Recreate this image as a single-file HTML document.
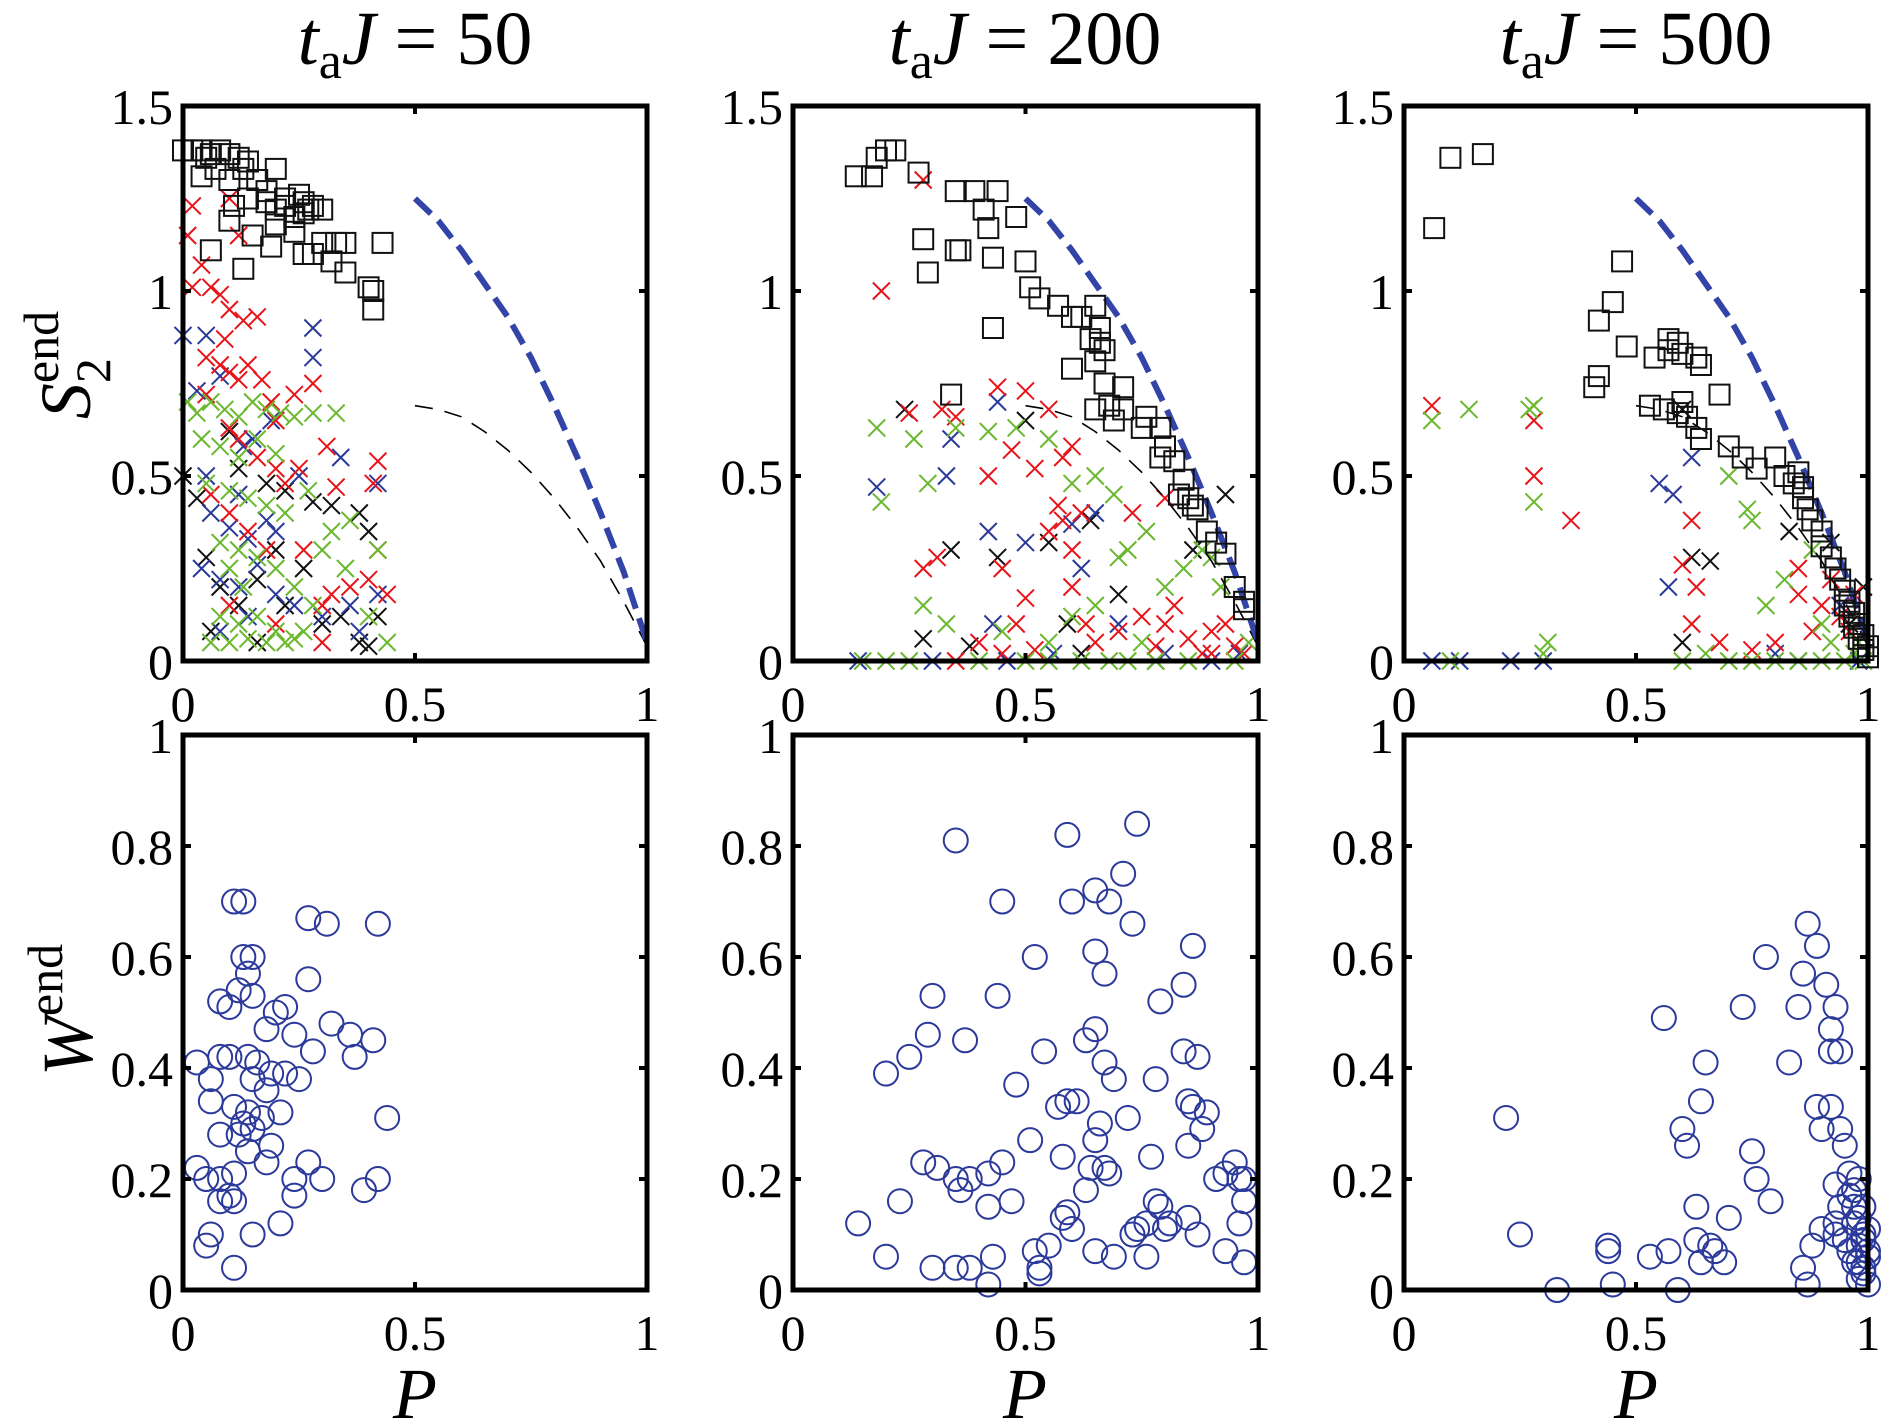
<!DOCTYPE html>
<html><head><meta charset="utf-8">
<style>
html,body{margin:0;padding:0;background:#fff;}
svg{display:block;font-family:"Liberation Serif",serif;}
</style></head>
<body>
<svg id="fig" width="1890" height="1428" viewBox="0 0 1890 1428">
<g>
<text x="415" y="64" font-size="76" text-anchor="middle"><tspan font-style="italic">t</tspan><tspan font-size="52" dy="14">a</tspan><tspan font-style="italic" dy="-14">J</tspan> = 50</text>
<text x="1025" y="64" font-size="76" text-anchor="middle"><tspan font-style="italic">t</tspan><tspan font-size="52" dy="14">a</tspan><tspan font-style="italic" dy="-14">J</tspan> = 200</text>
<text x="1636" y="64" font-size="76" text-anchor="middle"><tspan font-style="italic">t</tspan><tspan font-size="52" dy="14">a</tspan><tspan font-style="italic" dy="-14">J</tspan> = 500</text>
</g>
<text transform="translate(90,365) rotate(-90)" font-size="72" text-anchor="middle"><tspan font-style="italic">S</tspan><tspan font-size="50" dy="20">2</tspan><tspan font-size="50" dx="-25" dy="-52">end</tspan></text>
<text transform="translate(92,1010) rotate(-90)" font-size="72" text-anchor="middle"><tspan font-style="italic">W</tspan><tspan font-size="50" dy="-30">end</tspan></text>
<text x="415" y="1418" font-size="72" font-style="italic" text-anchor="middle">P</text>
<text x="1025" y="1418" font-size="72" font-style="italic" text-anchor="middle">P</text>
<text x="1636" y="1418" font-size="72" font-style="italic" text-anchor="middle">P</text>
</svg>
<script>
// ---- data ----
const blueCurveP = [0.5,0.55,0.6,0.65,0.7,0.75,0.8,0.85,0.9,0.95,1.0];
const blueCurveS = [1.25,1.19,1.11,1.02,0.93,0.82,0.69,0.55,0.40,0.24,0.05];
const blackCurveS = [0.69,0.68,0.66,0.62,0.57,0.51,0.44,0.36,0.27,0.16,0.04];
const xTicks = [0,0.5,1];
const xTickLabels = ["0","0.5","1"];
const s2Ticks = [0,0.5,1,1.5];
const s2TickLabels = ["0","0.5","1","1.5"];
const wTicks = [0,0.2,0.4,0.6,0.8,1];
const wTickLabels = ["0","0.2","0.4","0.6","0.8","1"];

const sq50 = [[0.0,1.38],[0.02,1.38],[0.04,1.38],[0.06,1.37],[0.08,1.38],[0.1,1.37],[0.12,1.36],[0.14,1.35],[0.05,1.36],[0.07,1.33],[0.1,1.30],[0.13,1.33],[0.16,1.30],[0.18,1.27],[0.2,1.33],[0.14,1.25],[0.18,1.24],[0.22,1.25],[0.25,1.26],[0.27,1.22],[0.24,1.20],[0.22,1.23],[0.2,1.22],[0.26,1.24],[0.28,1.23],[0.3,1.22],[0.04,1.31],[0.1,1.19],[0.15,1.15],[0.19,1.12],[0.11,1.23],[0.2,1.18],[0.24,1.16],[0.3,1.13],[0.33,1.13],[0.35,1.13],[0.43,1.13],[0.26,1.10],[0.28,1.10],[0.32,1.08],[0.35,1.05],[0.4,1.01],[0.41,1.00],[0.41,0.95],[0.06,1.11],[0.13,1.06],[0.26,1.21]];
const red50 = [[0.02,1.23],[0.01,1.15],[0.04,1.07],[0.02,1.01],[0.06,1.01],[0.1,1.25],[0.12,1.15],[0.08,0.99],[0.1,0.95],[0.13,0.92],[0.16,0.93],[0.09,0.87],[0.05,0.82],[0.08,0.80],[0.1,0.78],[0.12,0.76],[0.14,0.80],[0.17,0.76],[0.19,0.70],[0.12,0.60],[0.16,0.55],[0.2,0.52],[0.22,0.48],[0.25,0.52],[0.31,0.58],[0.33,0.47],[0.42,0.54],[0.41,0.48],[0.1,0.40],[0.14,0.35],[0.18,0.30],[0.26,0.30],[0.42,0.30],[0.4,0.22],[0.36,0.20],[0.32,0.18],[0.3,0.15],[0.06,0.45],[0.2,0.65],[0.24,0.72],[0.28,0.75],[0.1,0.63],[0.05,0.72],[0.1,0.15],[0.2,0.10],[0.3,0.05],[0.44,0.18]];
const green50 = [[0.01,0.70],[0.03,0.67],[0.06,0.70],[0.09,0.68],[0.12,0.66],[0.15,0.70],[0.18,0.68],[0.21,0.67],[0.24,0.66],[0.28,0.67],[0.33,0.67],[0.04,0.60],[0.08,0.58],[0.12,0.55],[0.16,0.60],[0.2,0.56],[0.05,0.48],[0.1,0.46],[0.14,0.44],[0.18,0.42],[0.22,0.40],[0.27,0.46],[0.36,0.38],[0.32,0.35],[0.3,0.30],[0.42,0.30],[0.08,0.32],[0.12,0.30],[0.16,0.28],[0.2,0.25],[0.24,0.20],[0.28,0.15],[0.08,0.12],[0.12,0.10],[0.16,0.12],[0.2,0.08],[0.24,0.06],[0.06,0.05],[0.1,0.05],[0.14,0.06],[0.18,0.05],[0.22,0.05],[0.26,0.08],[0.44,0.05],[0.4,0.12],[0.35,0.25],[0.13,0.20],[0.1,0.25]];
const blue50 = [[0.0,0.88],[0.05,0.88],[0.03,0.73],[0.08,0.77],[0.19,0.65],[0.28,0.9],[0.28,0.82],[0.13,0.58],[0.15,0.60],[0.05,0.5],[0.12,0.45],[0.18,0.38],[0.25,0.50],[0.34,0.55],[0.42,0.48],[0.06,0.40],[0.1,0.36],[0.14,0.33],[0.04,0.25],[0.08,0.22],[0.12,0.20],[0.16,0.26],[0.2,0.18],[0.3,0.12],[0.36,0.15],[0.42,0.18],[0.38,0.08],[0.08,0.08],[0.14,0.12],[0.24,0.15],[0.2,0.35]];
const black50 = [[0.0,0.50],[0.03,0.44],[0.1,0.62],[0.12,0.52],[0.18,0.48],[0.22,0.46],[0.28,0.43],[0.32,0.42],[0.38,0.40],[0.4,0.35],[0.05,0.28],[0.08,0.2],[0.12,0.15],[0.16,0.22],[0.2,0.30],[0.26,0.25],[0.3,0.10],[0.34,0.12],[0.38,0.05],[0.42,0.12],[0.06,0.08],[0.16,0.05],[0.22,0.15],[0.4,0.04]];
const w50 = [[0.11,0.70],[0.13,0.70],[0.27,0.67],[0.31,0.66],[0.42,0.66],[0.13,0.60],[0.15,0.60],[0.14,0.57],[0.15,0.53],[0.08,0.52],[0.10,0.51],[0.12,0.54],[0.27,0.56],[0.20,0.50],[0.22,0.51],[0.18,0.47],[0.24,0.46],[0.32,0.48],[0.36,0.46],[0.41,0.45],[0.28,0.43],[0.37,0.42],[0.03,0.41],[0.08,0.42],[0.10,0.42],[0.14,0.42],[0.16,0.41],[0.19,0.39],[0.06,0.38],[0.15,0.38],[0.22,0.39],[0.25,0.38],[0.18,0.36],[0.06,0.34],[0.11,0.33],[0.14,0.32],[0.13,0.30],[0.15,0.29],[0.12,0.28],[0.17,0.31],[0.21,0.32],[0.08,0.28],[0.19,0.26],[0.14,0.25],[0.18,0.23],[0.27,0.23],[0.44,0.31],[0.03,0.22],[0.11,0.21],[0.08,0.20],[0.05,0.20],[0.24,0.20],[0.30,0.20],[0.42,0.20],[0.39,0.18],[0.10,0.17],[0.11,0.16],[0.08,0.16],[0.24,0.17],[0.21,0.12],[0.15,0.10],[0.06,0.10],[0.05,0.08],[0.11,0.04]];

const sq200 = [[0.135,1.31],[0.17,1.31],[0.18,1.36],[0.2,1.38],[0.22,1.38],[0.27,1.32],[0.35,1.27],[0.39,1.27],[0.44,1.27],[0.41,1.22],[0.48,1.20],[0.28,1.14],[0.36,1.11],[0.35,1.11],[0.29,1.05],[0.42,1.17],[0.43,1.09],[0.43,0.90],[0.50,1.08],[0.51,1.01],[0.53,0.98],[0.57,0.96],[0.60,0.93],[0.62,0.93],[0.64,0.87],[0.66,0.86],[0.65,0.81],[0.67,0.75],[0.65,0.68],[0.68,0.69],[0.69,0.65],[0.71,0.68],[0.75,0.63],[0.79,0.63],[0.80,0.58],[0.82,0.54],[0.84,0.49],[0.85,0.44],[0.87,0.41],[0.89,0.35],[0.91,0.32],[0.93,0.29],[0.95,0.20],[0.97,0.16],[0.97,0.14],[0.34,0.72],[0.65,0.96],[0.66,0.90],[0.67,0.84],[0.60,0.79],[0.71,0.74],[0.76,0.66],[0.79,0.55],[0.83,0.45],[0.86,0.42]];
const red200 = [[0.19,1.0],[0.28,1.3],[0.25,0.67],[0.32,0.68],[0.35,0.66],[0.44,0.74],[0.5,0.73],[0.6,0.58],[0.55,0.68],[0.42,0.5],[0.47,0.57],[0.52,0.52],[0.58,0.55],[0.62,0.4],[0.57,0.42],[0.73,0.4],[0.8,0.44],[0.28,0.25],[0.31,0.28],[0.45,0.25],[0.5,0.17],[0.48,0.1],[0.55,0.35],[0.58,0.38],[0.6,0.2],[0.63,0.1],[0.65,0.05],[0.7,0.08],[0.75,0.12],[0.8,0.1],[0.85,0.06],[0.9,0.08],[0.93,0.1],[0.95,0.04],[0.97,0.02],[0.4,0.05],[0.45,0.02],[0.52,0.03],[0.35,0.0],[0.88,0.02],[0.78,0.04],[0.6,0.3],[0.82,0.15],[0.9,0.02]];
const green200 = [[0.18,0.63],[0.26,0.6],[0.35,0.63],[0.42,0.62],[0.48,0.63],[0.19,0.43],[0.29,0.48],[0.28,0.15],[0.33,0.1],[0.55,0.6],[0.6,0.48],[0.65,0.5],[0.69,0.45],[0.7,0.28],[0.72,0.3],[0.76,0.35],[0.8,0.2],[0.84,0.25],[0.88,0.3],[0.9,0.28],[0.92,0.2],[0.15,0.0],[0.2,0.0],[0.25,0.0],[0.4,0.0],[0.5,0.0],[0.55,0.0],[0.62,0.0],[0.68,0.0],[0.72,0.0],[0.78,0.0],[0.85,0.0],[0.95,0.0],[0.45,0.08],[0.55,0.05],[0.6,0.12],[0.75,0.05],[0.98,0.05],[0.65,0.15]];
const blue200 = [[0.14,0.0],[0.18,0.47],[0.3,0.0],[0.34,0.6],[0.33,0.5],[0.44,0.7],[0.42,0.35],[0.43,0.1],[0.5,0.32],[0.6,0.37],[0.62,0.25],[0.65,0.4],[0.7,0.1],[0.8,0.02],[0.9,0.0],[0.56,0.02],[0.46,0.0],[0.96,0.02]];
const black200 = [[0.24,0.68],[0.28,0.06],[0.34,0.3],[0.38,0.04],[0.44,0.28],[0.5,0.65],[0.55,0.32],[0.59,0.1],[0.64,0.38],[0.7,0.18],[0.86,0.3],[0.93,0.45],[0.62,0.02],[0.78,0.0]];
const w200 = [[0.35,0.81],[0.59,0.82],[0.74,0.84],[0.45,0.70],[0.6,0.70],[0.65,0.72],[0.68,0.70],[0.71,0.75],[0.73,0.66],[0.52,0.60],[0.65,0.61],[0.86,0.62],[0.3,0.53],[0.44,0.53],[0.67,0.57],[0.79,0.52],[0.84,0.55],[0.65,0.47],[0.37,0.45],[0.25,0.42],[0.2,0.39],[0.54,0.43],[0.63,0.45],[0.84,0.43],[0.87,0.42],[0.67,0.41],[0.69,0.38],[0.78,0.38],[0.29,0.46],[0.48,0.37],[0.59,0.34],[0.61,0.34],[0.57,0.33],[0.72,0.31],[0.85,0.34],[0.86,0.33],[0.89,0.32],[0.88,0.29],[0.85,0.26],[0.51,0.27],[0.66,0.30],[0.65,0.27],[0.28,0.23],[0.31,0.22],[0.35,0.20],[0.36,0.18],[0.38,0.20],[0.42,0.21],[0.45,0.23],[0.58,0.24],[0.64,0.22],[0.67,0.22],[0.68,0.21],[0.77,0.24],[0.91,0.20],[0.93,0.21],[0.95,0.23],[0.96,0.20],[0.97,0.20],[0.97,0.16],[0.96,0.12],[0.93,0.07],[0.97,0.05],[0.23,0.16],[0.14,0.12],[0.2,0.06],[0.3,0.04],[0.35,0.04],[0.38,0.04],[0.42,0.15],[0.43,0.06],[0.42,0.01],[0.47,0.16],[0.52,0.07],[0.53,0.04],[0.53,0.03],[0.55,0.08],[0.58,0.13],[0.6,0.11],[0.65,0.07],[0.69,0.06],[0.73,0.10],[0.76,0.06],[0.78,0.16],[0.79,0.15],[0.8,0.11],[0.81,0.12],[0.85,0.13],[0.87,0.10],[0.74,0.11],[0.76,0.12],[0.63,0.18],[0.59,0.14]];

const sq500 = [[0.065,1.17],[0.1,1.36],[0.17,1.37],[0.42,0.92],[0.42,0.77],[0.41,0.74],[0.47,1.08],[0.45,0.97],[0.48,0.85],[0.54,0.82],[0.57,0.87],[0.59,0.86],[0.6,0.83],[0.63,0.82],[0.64,0.80],[0.57,0.84],[0.68,0.72],[0.53,0.69],[0.56,0.68],[0.59,0.67],[0.6,0.70],[0.61,0.66],[0.63,0.63],[0.64,0.60],[0.7,0.58],[0.73,0.55],[0.76,0.52],[0.8,0.55],[0.82,0.50],[0.84,0.48],[0.86,0.44],[0.87,0.41],[0.88,0.38],[0.9,0.35],[0.9,0.31],[0.92,0.28],[0.93,0.25],[0.94,0.22],[0.95,0.19],[0.96,0.16],[0.97,0.13],[0.98,0.10],[0.99,0.07],[1.0,0.04],[1.0,0.01],[0.99,0.03],[0.97,0.09],[0.96,0.12],[0.95,0.15],[0.98,0.06],[0.86,0.47],[0.85,0.51]];
const red500 = [[0.06,0.69],[0.28,0.65],[0.28,0.5],[0.36,0.38],[0.62,0.38],[0.6,0.26],[0.63,0.2],[0.62,0.1],[0.68,0.05],[0.85,0.18],[0.9,0.15],[0.92,0.22],[0.94,0.12],[0.96,0.08],[0.88,0.08],[0.8,0.05],[0.75,0.03],[0.97,0.18],[0.85,0.25]];
const green500 = [[0.06,0.65],[0.14,0.68],[0.27,0.68],[0.28,0.69],[0.7,0.5],[0.74,0.41],[0.75,0.38],[0.28,0.43],[0.3,0.02],[0.31,0.05],[0.1,0.0],[0.6,0.0],[0.7,0.0],[0.75,0.0],[0.85,0.0],[0.9,0.0],[0.95,0.0],[0.97,0.02],[0.98,0.05],[0.9,0.1],[0.82,0.22],[0.78,0.15],[0.88,0.3],[0.92,0.05],[0.65,0.02],[0.8,0.0],[0.99,0.0]];
const blue500 = [[0.06,0.0],[0.12,0.0],[0.23,0.0],[0.3,0.0],[0.55,0.48],[0.58,0.45],[0.57,0.2],[0.62,0.55],[0.85,0.0],[0.98,0.0],[0.8,0.02],[0.94,0.15]];
const black500 = [[0.6,0.68],[0.6,0.05],[0.66,0.27],[0.62,0.28],[0.92,0.32],[0.96,0.1],[0.83,0.35],[0.99,0.2]];
const w500 = [[0.22,0.31],[0.25,0.10],[0.33,0.00],[0.44,0.08],[0.44,0.07],[0.45,0.01],[0.56,0.49],[0.53,0.06],[0.57,0.07],[0.59,0.00],[0.6,0.29],[0.61,0.26],[0.65,0.41],[0.64,0.34],[0.63,0.15],[0.63,0.09],[0.64,0.05],[0.66,0.08],[0.67,0.07],[0.69,0.05],[0.7,0.13],[0.73,0.51],[0.75,0.25],[0.76,0.20],[0.78,0.60],[0.79,0.16],[0.83,0.41],[0.85,0.51],[0.86,0.57],[0.87,0.66],[0.89,0.62],[0.91,0.55],[0.93,0.51],[0.92,0.47],[0.92,0.43],[0.94,0.43],[0.89,0.33],[0.92,0.33],[0.9,0.29],[0.94,0.29],[0.95,0.26],[0.96,0.21],[0.93,0.19],[0.96,0.17],[0.97,0.15],[0.94,0.15],[0.97,0.12],[0.99,0.10],[0.98,0.08],[1.0,0.06],[0.99,0.04],[0.98,0.02],[1.0,0.01],[0.97,0.05],[0.95,0.09],[0.93,0.10],[0.88,0.08],[0.86,0.04],[0.87,0.01],[0.99,0.15],[0.98,0.13],[1.0,0.11],[0.97,0.18],[0.98,0.20],[0.99,0.09],[0.99,0.03],[1.0,0.07],[0.98,0.05],[0.96,0.07],[0.93,0.12],[0.9,0.11]];

// ---- drawing ----
const NS = "http://www.w3.org/2000/svg";
const svg = document.getElementById("fig");
function mk(tag, attrs, parent){ const e=document.createElementNS(NS,tag); for(const k in attrs) e.setAttribute(k,attrs[k]); (parent||svg).appendChild(e); return e; }
const colX = [[183,647],[793,1258],[1404,1868]];
const row1Y = [106,661], row2Y = [735,1290];
const RED="#e8141a", GREEN="#6ab82e", BLUE="#2b3a9a", BLACK="#111";

function makeAxes(ci, ry, ymax, yTicks, yLabels, name){
  const [x0,x1]=colX[ci], [y0,y1]=ry;
  const sx = v => x0 + v*(x1-x0);
  const sy = v => y1 - v/ymax*(y1-y0);
  const g = mk("g",{});
  
  
  return {g,sx,sy,x0,x1,y0,y1,yTicks,yLabels};
}
function frame(a){
  const f = mk("rect",{x:a.x0,y:a.y0,width:a.x1-a.x0,height:a.y1-a.y0,fill:"none",stroke:"#000","stroke-width":5},a.g);
  
  
  xTicks.forEach((t,i)=>{
    const X=a.sx(t);
    mk("line",{x1:X,x2:X,y1:a.y1,y2:a.y1-8,stroke:"#000","stroke-width":4},a.g);
    mk("line",{x1:X,x2:X,y1:a.y0,y2:a.y0+8,stroke:"#000","stroke-width":4},a.g);
    const tl = mk("text",{x:X,y:a.y1+60,"font-size":50,"text-anchor":"middle"},a.g);
    tl.textContent = xTickLabels[i];
    
    
  });
  a.yTicks.forEach((t,i)=>{
    const Y=a.sy(t);
    mk("line",{x1:a.x0,x2:a.x0+8,y1:Y,y2:Y,stroke:"#000","stroke-width":4},a.g);
    mk("line",{x1:a.x1,x2:a.x1-8,y1:Y,y2:Y,stroke:"#000","stroke-width":4},a.g);
    const tl = mk("text",{x:a.x0-10,y:Y+18,"font-size":50,"text-anchor":"end"},a.g);
    tl.textContent = a.yLabels[i];
    
    
  });
}
function crosses(a, pts, color, name){
  const g = mk("g",{stroke:color,"stroke-width":2,fill:"none"},a.g);
  
  
  const h=8.5;
  pts.forEach(p=>{
    const X=a.sx(p[0]), Y=a.sy(p[1]);
    const e = mk("path",{d:`M${X-h},${Y-h}L${X+h},${Y+h}M${X-h},${Y+h}L${X+h},${Y-h}`},g);
    
    
  });
}
function squares(a, pts, name){
  const g = mk("g",{stroke:BLACK,"stroke-width":2,fill:"none"},a.g);
  
  
  const h=10;
  pts.forEach(p=>{
    const e = mk("rect",{x:a.sx(p[0])-h,y:a.sy(p[1])-h,width:2*h,height:2*h},g);
    
    
  });
}
function circles(a, pts, name){
  const g = mk("g",{stroke:BLUE,"stroke-width":2,fill:"none"},a.g);
  
  
  pts.forEach(p=>{
    const e = mk("circle",{cx:a.sx(p[0]),cy:a.sy(p[1]),r:12},g);
    
    
  });
}
function curves(a){
  const dB = blueCurveP.map((p,i)=>(i?"L":"M")+a.sx(p)+","+a.sy(blueCurveS[i])).join("");
  const dK = blueCurveP.map((p,i)=>(i?"L":"M")+a.sx(p)+","+a.sy(blackCurveS[i])).join("");
  const k = mk("path",{d:dK,stroke:"#000","stroke-width":1.6,fill:"none","stroke-dasharray":"18 12"},a.g);
  
  
  const b = mk("path",{d:dB,stroke:"#3344a8","stroke-width":6,fill:"none","stroke-dasharray":"22 10"},a.g);
  
  
}

const tops = [
  [sq50,red50,green50,blue50,black50],
  [sq200,red200,green200,blue200,black200],
  [sq500,red500,green500,blue500,black500]
];
const bots = [w50,w200,w500];
const names = ["50","200","500"];
for(let c=0;c<3;c++){
  const a = makeAxes(c,row1Y,1.5,s2Ticks,s2TickLabels,"s2-panel-"+names[c]);
  const [sq,rd,gr,bl,bk]=tops[c];
  crosses(a,bk,BLACK,"black-crosses");
  crosses(a,bl,BLUE,"blue-crosses");
  crosses(a,rd,RED,"red-crosses");
  crosses(a,gr,GREEN,"green-crosses");
  curves(a);
  squares(a,sq,"black-squares");
  frame(a);
  const b = makeAxes(c,row2Y,1,wTicks,wTickLabels,"w-panel-"+names[c]);
  circles(b,bots[c],"blue-circles");
  frame(b);
}
</script>
</body></html>
